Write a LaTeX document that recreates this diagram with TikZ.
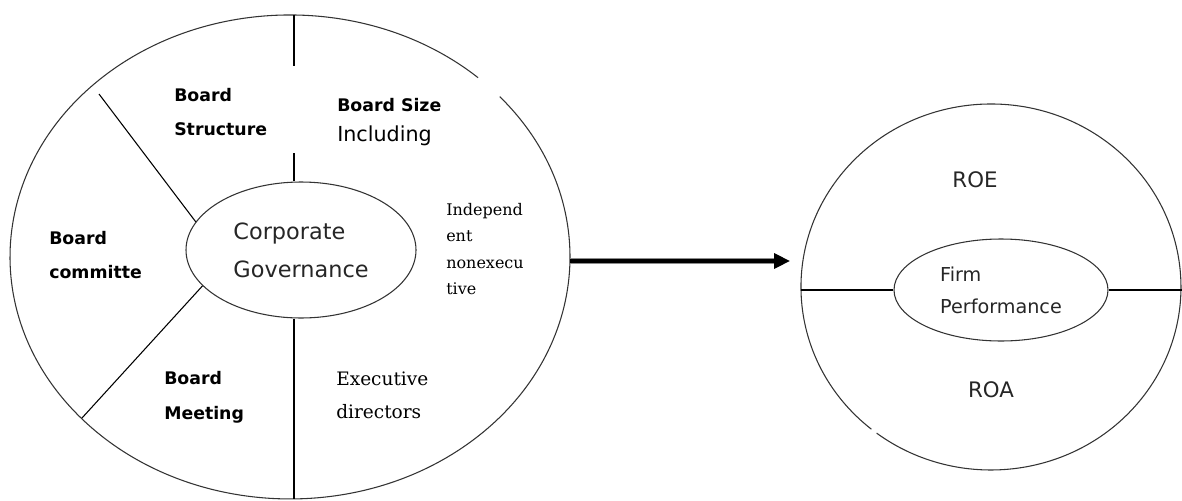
\documentclass[tikz,border=0pt]{standalone}
\usepackage{fontspec}
\setmainfont{DejaVu Sans}
\newfontfamily\slabfont{DejaVu Serif}
\usepackage{tikz}
\usetikzlibrary{shapes.geometric,arrows.meta}
\tikzset{ring/.style={draw=black!80, line width=0.8pt}}
\tikzset{hub/.style={ellipse, draw=black!80, line width=0.8pt, align=left, inner sep=0pt, text=black!85}}
\tikzset{spoke/.style={line width=0.8pt}}
\tikzset{tag/.style={anchor=west, align=left, inner sep=0pt, font=\fontsize{13}{26}\selectfont\bfseries}}
\tikzset{note/.style={anchor=west, align=left, inner sep=0pt}}
\tikzset{fat/.style={line width=3pt, -{Triangle[length=12pt,width=11pt]}, preaction={draw=black!45, line width=4.5pt}}}

\begin{document}
\begin{tikzpicture}[x=0.75pt,y=-0.75pt]
\useasboundingbox (0,0) rectangle (1182,500);
% outer rings
\draw[ring] (499.7,96.6) arc[start angle=-41.5, end angle=312.2, x radius=280, y radius=242];
\draw[ring] (871.4,429.2) arc[start angle=129, end angle=487, x radius=190, y radius=183];

\coordinate (topA) at (294,15);
\coordinate (topB) at (294,66);
\coordinate (midA) at (294,153);
\coordinate (botA) at (294,499);
\coordinate (ulA) at (99,94);
\coordinate (llA) at (82,418);
\coordinate (arrA) at (570,261);
\coordinate (arrB) at (790,261);
\coordinate (lfB) at (801,290);
\coordinate (rtB) at (1182,290);

\node[hub, minimum width=172.5pt, minimum height=102pt, font=\fontsize{16.8}{28.5}\selectfont] (cg) at (301,250) {Corporate\\Governance};
\node[hub, minimum width=160.5pt, minimum height=76.5pt, font=\fontsize{14.4}{24}\selectfont] (fp) at (1001,290) {Firm\\Performance};

\draw[spoke] (topA) -- (topB);
\draw[spoke] (midA) -- (midA |- cg.north);
\draw[spoke] (cg.south -| botA) -- (botA);
\draw[spoke] (ulA) -- (cg.165);
\draw[spoke] (llA) -- (cg.200);
\draw[spoke] (lfB) -- (fp.west);
\draw[spoke] (fp.east) -- (rtB);
\draw[fat] (arrA) -- (arrB);

\node[tag] (bs) at (174,112) {Board\\Structure};
\node[tag, font=\fontsize{13}{23}\selectfont\bfseries] (bz) at (337,122) {Board Size\\{\mdseries\fontsize{15.5}{23}\selectfont Including}};
\node[tag] (bc) at (49,255) {Board\\committe};
\node[tag] (bm) at (164,397) {Board\\Meeting};
\node[note, font=\slabfont\fontsize{12}{19.7}\selectfont] (ind) at (446,249) {Independ\\ent\\nonexecu\\tive};
\node[note, font=\slabfont\fontsize{13.9}{25}\selectfont] (ex) at (336,395) {Executive\\directors};
\node[font=\fontsize{16}{19}\selectfont, text=black!85] (roe) at (975,180) {ROE};
\node[font=\fontsize{16}{19}\selectfont, text=black!85] (roa) at (991,390) {ROA};
\end{tikzpicture}
\end{document}
